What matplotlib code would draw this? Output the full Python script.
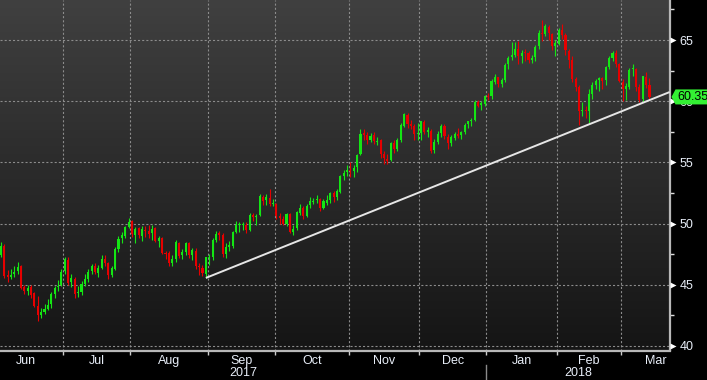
import numpy as np
import pandas as pd
import matplotlib
matplotlib.use("Agg")
import matplotlib.pyplot as plt
import matplotlib.transforms as mtransforms
from matplotlib.patches import Polygon
from matplotlib.colors import LinearSegmentedColormap
from matplotlib.ticker import MultipleLocator

plt.rcParams['font.family'] = ['Liberation Sans', 'DejaVu Sans']
plt.rcParams['lines.scale_dashes'] = False

# Daily candles, 1 Jun 2017 .. 13 Mar 2018 (exchange trading days)
START_DATE = '2017-06-01'
HOLIDAYS = ['2017-07-04', '2017-09-04', '2017-11-23', '2017-12-25',
            '2018-01-01', '2018-01-15', '2018-02-19', '2018-03-30']

opens = [
    # Jun
    48.32, 48.30, 47.75, 47.40, 48.20, 45.80, 45.60, 45.90, 46.10, 46.50, 44.80, 44.50, 44.80, 44.30, 43.30, 42.55, 42.80, 43.05, 43.40, 44.25, 44.80, 45.00,
    # Jul
    46.10, 47.00, 45.20, 45.50, 44.30, 44.40, 45.10, 45.50, 46.10, 46.50, 46.00, 46.40, 47.10, 46.80, 45.80, 46.30, 47.90, 48.80, 49.00, 49.70,
    # Aug
    50.20, 49.10, 49.60, 49.00, 49.50, 49.40, 49.20, 49.60, 48.60, 48.80, 47.60, 47.60, 46.80, 47.10, 48.40, 47.40, 47.70, 48.40, 47.40, 47.80, 46.50, 46.40, 45.90,
    # Sep
    47.20, 47.30, 48.70, 49.20, 49.10, 47.50, 48.10, 48.20, 49.30, 49.85, 49.90, 49.90, 49.50, 50.70, 50.50, 50.70, 52.20, 51.90, 52.10, 51.60,
    # Oct
    51.60, 50.60, 50.40, 50.00, 50.80, 49.30, 49.60, 50.90, 51.30, 50.60, 51.50, 51.80, 51.90, 52.00, 51.30, 51.70, 51.90, 52.50, 52.20, 52.60, 53.90, 54.20,
    # Nov
    54.40, 54.30, 54.60, 55.70, 57.40, 57.20, 56.80, 57.20, 56.70, 56.80, 55.70, 55.30, 55.20, 56.60, 56.10, 56.80, 58.00, 58.90, 58.10, 58.00, 57.30,
    # Dec
    57.40, 58.30, 57.50, 57.60, 56.00, 56.70, 57.40, 58.00, 57.10, 56.60, 57.00, 57.30, 57.20, 57.50, 58.10, 58.40, 58.50, 59.90, 59.70, 59.80,
    # Jan
    60.40, 60.40, 61.60, 62.00, 61.40, 61.70, 63.00, 63.60, 63.80, 64.30, 63.70, 64.00, 63.90, 63.40, 63.60, 64.50, 65.60, 65.50, 66.10, 65.50, 64.50,
    # Feb
    64.70, 65.80, 65.40, 64.10, 63.40, 61.80, 61.20, 59.20, 59.30, 59.20, 60.60, 61.30, 61.70, 61.90, 61.70, 62.80, 63.50, 63.90, 63.00,
    # Mar
    61.60, 61.00, 61.20, 62.60, 62.60, 61.20, 60.20, 62.00, 61.30,
]
highs = [
    48.88, 48.40, 48.15, 48.48, 48.35, 46.18, 46.30, 46.50, 46.85, 46.60, 45.00, 45.00, 45.00, 44.40, 44.10, 43.10, 43.40, 43.80, 44.40, 44.90, 45.40, 46.30,
    47.30, 47.30, 45.90, 45.60, 44.90, 45.30, 45.90, 46.30, 46.70, 46.80, 46.60, 47.40, 47.40, 46.90, 46.50, 48.10, 49.00, 49.30, 49.80, 50.43,
    50.30, 49.70, 49.70, 49.80, 49.80, 49.90, 49.90, 49.70, 49.00, 48.90, 47.80, 47.80, 47.40, 48.70, 48.50, 47.90, 48.50, 48.50, 48.00, 48.00, 46.80, 46.60, 47.30,
    47.50, 48.80, 49.40, 49.40, 49.20, 48.40, 48.60, 49.40, 50.20, 50.10, 50.10, 50.10, 50.90, 50.90, 50.80, 52.40, 52.30, 52.45, 52.86, 52.00,
    51.70, 50.90, 50.60, 50.90, 50.90, 49.90, 51.00, 51.60, 51.40, 51.60, 52.20, 52.10, 52.30, 52.10, 52.00, 52.30, 52.60, 52.70, 52.80, 54.00, 54.40, 54.80,
    55.00, 54.80, 55.70, 57.70, 57.70, 57.50, 57.40, 57.50, 57.10, 56.90, 55.90, 55.70, 56.70, 56.80, 57.00, 58.20, 59.05, 59.00, 58.50, 58.10, 58.20,
    58.40, 58.50, 57.90, 57.70, 56.90, 57.60, 58.10, 58.10, 57.30, 57.20, 57.50, 57.80, 57.60, 58.20, 58.40, 58.60, 60.10, 60.10, 60.00, 60.50,
    60.70, 61.80, 62.20, 62.00, 61.90, 63.10, 63.70, 64.80, 64.80, 64.90, 64.20, 64.30, 64.10, 63.80, 64.60, 65.80, 66.66, 66.30, 66.20, 65.60, 65.00,
    66.00, 66.30, 65.60, 64.30, 63.70, 62.00, 61.30, 59.90, 59.60, 61.00, 61.60, 61.80, 62.00, 62.00, 62.90, 63.70, 64.10, 64.20, 63.10,
    61.80, 61.50, 62.70, 63.00, 62.70, 61.40, 62.10, 62.40, 61.90,
]
lows = [
    47.92, 47.40, 47.00, 47.30, 45.55, 45.20, 45.50, 45.60, 45.90, 44.65, 44.25, 44.20, 43.90, 43.15, 42.05, 42.30, 42.60, 42.90, 43.10, 43.90, 44.50, 44.90,
    45.90, 45.00, 44.80, 43.90, 44.00, 44.20, 44.90, 45.20, 45.90, 45.90, 45.60, 46.30, 46.50, 45.50, 45.60, 46.20, 47.70, 48.40, 48.80, 49.60,
    48.90, 48.40, 48.80, 48.60, 48.90, 48.80, 48.70, 48.50, 48.10, 47.50, 47.10, 46.50, 46.50, 46.90, 47.20, 47.10, 47.40, 47.20, 47.00, 46.30, 45.80, 45.75, 45.56,
    46.60, 47.00, 48.50, 48.70, 47.30, 47.20, 47.80, 48.00, 49.20, 49.30, 49.50, 49.20, 49.40, 50.20, 49.90, 50.60, 51.50, 51.50, 51.40, 51.40,
    50.40, 50.00, 49.90, 49.80, 49.20, 49.10, 49.50, 50.70, 50.40, 50.50, 51.30, 51.60, 51.70, 51.00, 51.20, 51.50, 51.70, 51.80, 51.90, 52.50, 53.60, 53.90,
    53.80, 53.80, 54.20, 55.60, 56.80, 56.50, 56.70, 56.50, 56.40, 55.40, 54.90, 54.90, 55.10, 55.80, 55.90, 56.70, 57.90, 57.80, 57.70, 56.80, 56.80,
    56.80, 57.30, 57.10, 55.80, 55.80, 56.50, 57.10, 56.90, 56.10, 56.30, 56.80, 57.00, 56.90, 57.30, 57.80, 58.00, 58.40, 59.50, 59.30, 59.60,
    60.10, 60.20, 61.40, 61.20, 61.20, 61.60, 62.60, 63.40, 63.60, 63.00, 63.10, 63.30, 63.10, 63.10, 63.30, 64.30, 64.90, 65.30, 65.00, 64.20, 63.70,
    64.60, 65.10, 63.80, 62.70, 61.60, 60.80, 58.07, 58.80, 58.60, 58.21, 60.20, 61.00, 60.80, 61.00, 61.30, 62.60, 63.30, 62.80, 61.60,
    60.00, 60.10, 61.00, 62.10, 60.80, 59.95, 59.90, 61.10, 60.20,
]
closes = [
    48.36, 47.66, 47.40, 48.19, 45.72, 45.64, 45.83, 46.08, 46.46, 44.73, 44.46, 44.74, 44.20, 43.23, 42.53, 42.74, 43.01, 43.38, 44.24, 44.74, 44.93, 46.04,
    47.07, 45.13, 45.52, 44.23, 44.40, 45.04, 45.49, 46.08, 46.54, 46.02, 46.40, 47.12, 46.79, 45.77, 46.34, 47.89, 48.75, 49.04, 49.71, 50.17,
    49.16, 49.59, 49.03, 49.58, 49.39, 49.17, 49.56, 48.59, 48.82, 47.59, 47.55, 46.78, 47.09, 48.51, 47.37, 47.64, 48.41, 47.43, 47.87, 46.57, 46.44, 45.96, 47.23,
    47.29, 48.66, 49.16, 49.09, 47.48, 48.07, 48.23, 49.30, 49.89, 49.89, 49.91, 49.48, 50.69, 50.55, 50.66, 52.22, 51.88, 52.14, 51.56, 51.67,
    50.58, 50.42, 49.98, 50.79, 49.29, 49.58, 50.92, 51.30, 50.60, 51.45, 51.87, 51.88, 52.04, 51.29, 51.84, 51.90, 52.47, 52.18, 52.64, 53.90, 54.15, 54.38,
    54.30, 54.54, 55.64, 57.35, 57.20, 56.81, 57.17, 56.74, 56.76, 55.70, 55.33, 55.14, 56.55, 56.09, 56.83, 58.02, 58.95, 58.11, 57.99, 57.30, 57.40,
    58.36, 57.47, 57.62, 55.96, 56.69, 57.36, 57.99, 57.14, 56.60, 57.04, 57.30, 57.16, 57.46, 58.09, 58.36, 58.47, 59.97, 59.64, 59.84, 60.42,
    60.37, 61.63, 62.01, 61.44, 61.73, 62.96, 63.57, 63.80, 64.30, 63.73, 63.97, 63.95, 63.37, 63.57, 64.47, 65.61, 65.51, 66.14, 65.56, 64.50, 64.73,
    65.80, 65.45, 64.15, 63.39, 61.79, 61.15, 59.20, 59.29, 59.19, 60.60, 61.34, 61.68, 61.90, 61.68, 62.77, 63.55, 63.91, 63.01, 61.64,
    60.99, 61.25, 62.57, 62.60, 61.15, 60.12, 62.04, 61.36, 60.35,
]
last_price = 60.35

# hand drawn trend line (support from the Aug low)
trend_dates = ['2017-08-31', '2018-03-21']
trend_prices = [45.56, 60.75]

price_ticks = [40, 45, 50, 55, 60, 65]

GREEN = '#14e614'
RED = '#e60000'
TEXT = '#e8eef8'
GRID = '#8c8c8c'

# trading-day calendar used as x axis (extends to end of March for the axis)
days = pd.bdate_range(START_DATE, '2018-03-31', freq='C', holidays=HOLIDAYS)
pos = {d.strftime('%Y-%m-%d'): i for i, d in enumerate(days)}
n = len(closes)
x = np.arange(n)
o = np.array(opens)
h = np.array(highs)
l = np.array(lows)
c = np.array(closes)

XL = (2.75, 202.1)
YL = (39.63, 68.27)

fig = plt.figure(figsize=(7.07, 3.80), dpi=100, facecolor='black')
ax = fig.add_axes([0, 1 - 350.5 / 380, 670 / 707, 350.5 / 380])
ax.set_facecolor('black')

# background gradient
cmap = LinearSegmentedColormap.from_list('bg', ['#404040', '#151515'])
grad = np.linspace(0, 1, 256).reshape(-1, 1)
ax.imshow(grad, cmap=cmap, extent=[XL[0], XL[1], YL[0], YL[1]],
          aspect='auto', origin='upper', zorder=0)

# candles
up = c >= o
cols = np.where(up, GREEN, RED)
ax.vlines(x, l, h, colors=cols, lw=0.8, zorder=3)
ax.bar(x, np.maximum(np.abs(c - o), 0.08), bottom=np.minimum(o, c),
       width=0.62, color=cols, lw=0, zorder=3)

# trend line
ax.plot([pos[d] for d in trend_dates], trend_prices, color='#e6e6e6',
        lw=1.4, zorder=4, solid_capstyle='butt')

# month boundaries
months = days.to_period('M')
starts = [0] + [i for i in range(1, len(days)) if months[i] != months[i - 1]]
bounds = [s - 0.5 for s in starts] + [len(days) - 0.5]

ax.set_xticks([b for b in bounds if XL[0] < b < XL[1]])
ax.set_xticklabels([])
ax.set_yticks(price_ticks)
ax.yaxis.set_minor_locator(MultipleLocator(2.5))
ax.set_xlim(*XL)
ax.set_ylim(*YL)
ax.yaxis.tick_right()
ax.tick_params(axis='x', length=3, width=1, color='#cccccc', direction='out')
ax.tick_params(axis='y', which='major', length=0, pad=7, labelsize=9, labelcolor=TEXT)
ax.tick_params(axis='y', which='minor', length=3, width=1, color='#dddddd', direction='out')
ax.grid(True, color=GRID, lw=0.8, linestyle=(0, (1.5, 1.5)))

for side in ['top', 'left']:
    ax.spines[side].set_visible(False)
for side in ['right', 'bottom']:
    ax.spines[side].set_color('#b8b8b8')
    ax.spines[side].set_linewidth(1.6)

# tick flags on the price axis
ytr = mtransforms.blended_transform_factory(ax.transAxes, ax.transData)
ax.plot(np.full(len(price_ticks), 1.0052), price_ticks, ls='none', marker='>',
        ms=5, color='white', mec='none', transform=ytr, clip_on=False, zorder=5)

# month and year labels
xfig = mtransforms.blended_transform_factory(ax.transData, fig.transFigure)
for k, s in enumerate(starts):
    mid = (bounds[k] + bounds[k + 1]) / 2
    ax.text(mid, 1 - 361 / 380, days[s].strftime('%b'), transform=xfig,
            ha='center', va='center', fontsize=9, color=TEXT, clip_on=False)

year_split = pos['2018-01-02'] - 0.5
for lo, hi, yr in [(XL[0], year_split, '2017'), (year_split, XL[1], '2018')]:
    ax.text((lo + hi) / 2, 1 - 373.5 / 380, yr, transform=xfig,
            ha='center', va='center', fontsize=9, color=TEXT, clip_on=False)
ax.plot([year_split, year_split], [1 - 365 / 380, 0], transform=xfig,
        color='#8a8a8a', lw=1, clip_on=False)
ax.set_xlim(*XL)
ax.set_ylim(*YL)

# last price flag
fig.canvas.draw()
yp = ax.transData.transform((0, last_price))[1]
yf = yp / fig.bbox.height
hh = 7.5 / 380
pts = [(671.5 / 707, yf), (675.5 / 707, yf + hh), (707 / 707, yf + hh),
       (707 / 707, yf - hh), (675.5 / 707, yf - hh)]
fig.add_artist(Polygon(pts, closed=True, transform=fig.transFigure,
                       facecolor='#33f033', edgecolor='none', zorder=5))
fig.text(677.5 / 707, yf, f'{last_price:.2f}', ha='left', va='center',
         fontsize=9, color='black', zorder=6)

fig.savefig('out.png', dpi=100, facecolor='black')
